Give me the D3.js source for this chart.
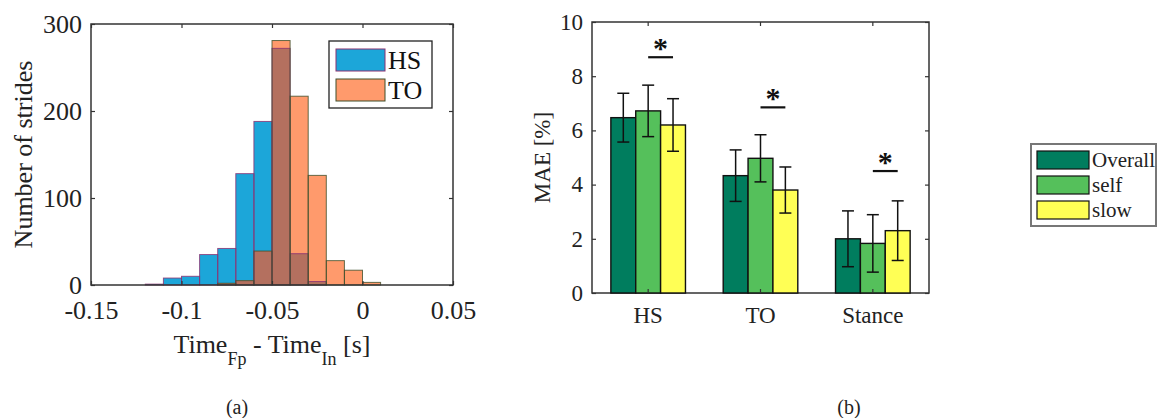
<!DOCTYPE html>
<html>
<head>
<meta charset="utf-8">
<script src="https://cdn.jsdelivr.net/npm/d3@7"></script>
<style>
  body { margin: 0; background: #fff; }
  svg text { font-family: "Liberation Serif", "Times New Roman", serif; }
</style>
</head>
<body>
<svg id="chart" width="1157" height="418"></svg>
<script>
// ---- (a) histogram data ----
const binStarts = [-0.12, -0.11, -0.10, -0.09, -0.08, -0.07, -0.06, -0.05, -0.04, -0.03, -0.02, -0.01, 0.00];
const hsCounts  = [1, 8, 10, 35, 42, 128, 188, 272, 36, 4, 0, 0, 0];
const toCounts  = [0, 0, 0, 0, 2, 5, 39, 281, 217, 126, 28, 17, 3];
const binWidth = 0.01;
const histXTicks = [-0.15, -0.1, -0.05, 0, 0.05];
const histYTicks = [0, 100, 200, 300];

// ---- (b) bar chart data ----
const phases = ["HS", "TO", "Stance"];
const conditions = ["Overall", "self", "slow"];
const maeOverall = [6.47, 4.33, 2.00];
const maeSelf    = [6.72, 4.97, 1.83];
const maeSlow    = [6.20, 3.80, 2.30];
const errOverall = [0.90, 0.95, 1.03];
const errSelf    = [0.95, 0.87, 1.06];
const errSlow    = [0.97, 0.85, 1.10];
const sigLevel   = [8.7, 6.85, 4.5];
const barYTicks  = [0, 2, 4, 6, 8, 10];

const svg = d3.select("#chart");
const axisColor = "#333";

// ============ (a) ============
const ha = {left: 91, right: 453, top: 24, bottom: 285};
const hx = d3.scaleLinear().domain([-0.15, 0.05]).range([ha.left, ha.right]);
const hy = d3.scaleLinear().domain([0, 300]).range([ha.bottom, ha.top]);

const hist = binStarts.map((s, i) => ({s, hs: hsCounts[i], to: toCounts[i]}));
const ga = svg.append("g");

function bins(sel, cls, val, fill) {
    sel.selectAll("rect." + cls)
        .data(hist.filter(d => val(d) > 0))
        .enter().append("rect")
        .attr("class", cls)
        .attr("x", d => hx(d.s))
        .attr("width", d => hx(d.s + binWidth) - hx(d.s))
        .attr("y", d => hy(val(d)))
        .attr("height", d => hy(0) - hy(val(d)))
        .attr("fill", fill)
        .attr("stroke", "none");
}
bins(ga, "hs", d => d.hs, "#1ca6d9");
bins(ga, "to", d => d.to, "#ff9a6c");
bins(ga, "ov", d => Math.min(d.hs, d.to), "#b4705f");

// outlines
[["hs", d => d.hs, "#8a3070"], ["to", d => d.to, "#3f4f2a"]].forEach(([c, v, col]) => {
    ga.selectAll("rect.e" + c)
        .data(hist.filter(d => v(d) > 0))
        .enter().append("rect")
        .attr("x", d => hx(d.s))
        .attr("width", d => hx(d.s + binWidth) - hx(d.s))
        .attr("y", d => hy(v(d)))
        .attr("height", d => hy(0) - hy(v(d)))
        .attr("fill", "none")
        .attr("stroke", col)
        .attr("stroke-width", 1)
        .attr("stroke-opacity", 0.8);
});

// frame + ticks
function frame(g, L, R, T, B) {
    g.append("rect")
        .attr("x", L).attr("y", T)
        .attr("width", R - L).attr("height", B - T)
        .attr("fill", "none").attr("stroke", axisColor).attr("stroke-width", 1.5);
}
frame(ga, ha.left, ha.right, ha.top, ha.bottom);

function styleAxis(g, fs) {
    g.attr("font-family", null).attr("font-size", null);
    g.select(".domain").remove();
    g.selectAll(".tick line").attr("stroke", axisColor).attr("stroke-width", 1.2);
    g.selectAll(".tick text")
        .attr("fill", "#222")
        .attr("font-size", fs);
}

ga.append("g")
    .attr("transform", `translate(0,${ha.bottom})`)
    .call(d3.axisBottom(hx).tickValues(histXTicks).tickSize(-4).tickPadding(16)
        .tickFormat(d => d === 0 ? "0" : String(d)))
    .call(g => styleAxis(g, 26));
ga.append("g")
    .attr("transform", `translate(0,${ha.top})`)
    .call(d3.axisTop(hx).tickValues(histXTicks).tickSize(-4).tickFormat(""))
    .call(g => styleAxis(g, 26));
ga.append("g")
    .attr("transform", `translate(${ha.left},0)`)
    .call(d3.axisLeft(hy).tickValues(histYTicks).tickSize(-4).tickPadding(9))
    .call(g => styleAxis(g, 26));
ga.append("g")
    .attr("transform", `translate(${ha.right},0)`)
    .call(d3.axisRight(hy).tickValues(histYTicks).tickSize(-4).tickFormat(""))
    .call(g => styleAxis(g, 26));

// labels
ga.append("text")
    .attr("transform", `translate(32,${(ha.top + ha.bottom) / 2}) rotate(-90)`)
    .attr("text-anchor", "middle")
    .attr("font-size", "26px").attr("fill", "#222")
    .text("Number of strides");

const xl = ga.append("text")
    .attr("x", 272).attr("y", 353)
    .attr("text-anchor", "middle")
    .attr("font-size", "26px").attr("fill", "#222");
xl.append("tspan").text("Time");
xl.append("tspan").attr("dy", 12).attr("font-size", "18px").text("Fp");
xl.append("tspan").attr("dy", -12).text(" - Time");
xl.append("tspan").attr("dy", 12).attr("font-size", "18px").text("In");
xl.append("tspan").attr("dy", -12).text(" [s]");

// legend (a)
const la = ga.append("g");
la.append("rect").attr("x", 329).attr("y", 41).attr("width", 103).attr("height", 67)
    .attr("fill", "#fff").attr("stroke", "#222").attr("stroke-width", 1.3);
[["HS", "#1ca6d9", "#8a3070"], ["TO", "#ff9a6c", "#3f4f2a"]].forEach(([t, f, s], i) => {
    la.append("rect").attr("x", 336).attr("y", 49 + i * 30).attr("width", 49).attr("height", 22)
        .attr("fill", f).attr("stroke", s).attr("stroke-width", 1);
    la.append("text").attr("x", 388).attr("y", 69 + i * 30)
        .attr("font-size", "26px").attr("fill", "#111").text(t);
});

svg.append("text").attr("x", 237).attr("y", 414).attr("text-anchor", "middle")
    .attr("font-size", "20px").attr("fill", "#222").text("(a)");

// ============ (b) ============
const ba = {left: 592, right: 929, top: 22, bottom: 293};
const bx = d3.scaleBand().domain(phases).range([ba.left, ba.right]).paddingInner(0).paddingOuter(0);
const bxi = d3.scaleBand().domain(conditions).range([-37.3, 37.3]).padding(0);
const by = d3.scaleLinear().domain([0, 10]).range([ba.bottom, ba.top]);
const condColor = d3.scaleOrdinal().domain(conditions).range(["#007d5e", "#55c05b", "#ffff55"]);

const vals = [maeOverall, maeSelf, maeSlow];
const errs = [errOverall, errSelf, errSlow];
const barData = [];
phases.forEach((p, i) => conditions.forEach((c, j) => {
    barData.push({p, c, v: vals[j][i], e: errs[j][i]});
}));

const gb = svg.append("g");
frame(gb, ba.left, ba.right, ba.top, ba.bottom);

const cx = d => bx(d.p) + bx.bandwidth() / 2 + bxi(d.c) + bxi.bandwidth() / 2;

gb.selectAll("rect.bar")
    .data(barData)
    .enter().append("rect")
    .attr("class", "bar")
    .attr("x", d => bx(d.p) + bx.bandwidth() / 2 + bxi(d.c))
    .attr("width", bxi.bandwidth())
    .attr("y", d => by(d.v))
    .attr("height", d => by(0) - by(d.v))
    .attr("fill", d => condColor(d.c))
    .attr("stroke", "#111").attr("stroke-width", 1.4);

// error bars
const eb = gb.append("g").attr("stroke", "#111").attr("stroke-width", 1.5);
eb.selectAll("line.v").data(barData).enter().append("line")
    .attr("x1", cx).attr("x2", cx)
    .attr("y1", d => by(d.v - d.e)).attr("y2", d => by(d.v + d.e));
eb.selectAll("line.t").data(barData).enter().append("line")
    .attr("x1", d => cx(d) - 6).attr("x2", d => cx(d) + 6)
    .attr("y1", d => by(d.v + d.e)).attr("y2", d => by(d.v + d.e));
eb.selectAll("line.b").data(barData).enter().append("line")
    .attr("x1", d => cx(d) - 6).attr("x2", d => cx(d) + 6)
    .attr("y1", d => by(d.v - d.e)).attr("y2", d => by(d.v - d.e));

// significance
phases.forEach((p, i) => {
    const x1 = cx({p, c: "self"}), x2 = cx({p, c: "slow"});
    gb.append("line").attr("x1", x1).attr("x2", x2)
        .attr("y1", by(sigLevel[i])).attr("y2", by(sigLevel[i]))
        .attr("stroke", "#111").attr("stroke-width", 2.2);
    gb.append("text").attr("x", (x1 + x2) / 2).attr("y", by(sigLevel[i]) + 1)
        .attr("text-anchor", "middle").attr("font-size", "30px")
        .attr("font-weight", "bold").attr("fill", "#111").text("*");
});

// axes
gb.append("g")
    .attr("transform", `translate(0,${ba.bottom})`)
    .call(d3.axisBottom(bx).tickSize(-4).tickPadding(14))
    .call(g => styleAxis(g, 23));
gb.append("g")
    .attr("transform", `translate(0,${ba.top})`)
    .call(d3.axisTop(bx).tickSize(-4).tickFormat(""))
    .call(g => styleAxis(g, 23));
gb.append("g")
    .attr("transform", `translate(${ba.left},0)`)
    .call(d3.axisLeft(by).tickValues(barYTicks).tickSize(-4).tickPadding(9))
    .call(g => styleAxis(g, 23));
gb.append("g")
    .attr("transform", `translate(${ba.right},0)`)
    .call(d3.axisRight(by).tickValues(barYTicks).tickSize(-4).tickFormat(""))
    .call(g => styleAxis(g, 23));

gb.append("text")
    .attr("transform", `translate(550,${(ba.top + ba.bottom) / 2}) rotate(-90)`)
    .attr("text-anchor", "middle")
    .attr("font-size", "23px").attr("fill", "#222")
    .text("MAE [%]");

// legend (b)
const lb = svg.append("g");
lb.append("rect").attr("x", 1031).attr("y", 144).attr("width", 125).attr("height", 82)
    .attr("fill", "#fff").attr("stroke", "#777").attr("stroke-width", 2);
conditions.forEach((c, i) => {
    lb.append("rect").attr("x", 1037).attr("y", 151 + i * 25).attr("width", 52).attr("height", 18)
        .attr("fill", condColor(c)).attr("stroke", "#111").attr("stroke-width", 1.2);
    lb.append("text").attr("x", 1092).attr("y", 167 + i * 25)
        .attr("font-size", "21px").attr("fill", "#222").text(c);
});

svg.append("text").attr("x", 849).attr("y", 414).attr("text-anchor", "middle")
    .attr("font-size", "20px").attr("fill", "#222").text("(b)");
</script>
</body>
</html>
